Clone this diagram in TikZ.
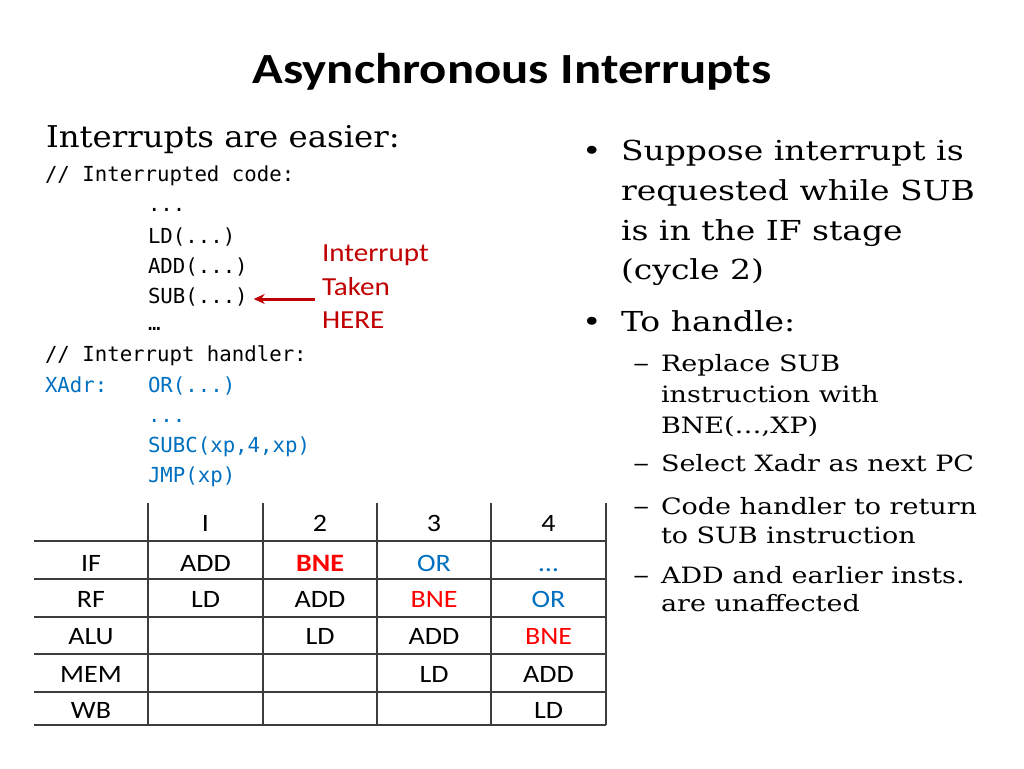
\documentclass[tikz,border=0pt]{standalone}
\usepackage{fontspec}
\usetikzlibrary{arrows.meta}
\newfontfamily\titlefont[FakeStretch=1.18]{Carlito}
\newfontfamily\gillfont[FakeStretch=1.12]{Carlito}
\newfontfamily\seriffont[FakeStretch=1.2]{DejaVu Serif}
\newfontfamily\dashfont[FakeStretch=1.35]{DejaVu Serif}
\newfontfamily\headfont[FakeStretch=1.08]{DejaVu Serif}
\newfontfamily\codefont{DejaVu Sans Mono}
\definecolor{codeblue}{RGB}{0,112,192}
\definecolor{darkred}{RGB}{192,0,0}
\definecolor{brightred}{RGB}{255,0,0}
\definecolor{gridgray}{RGB}{60,60,60}
\tikzset{
  txt/.style={inner sep=0pt, outer sep=0pt, anchor=base west},
  code/.style={txt, font=\codefont\fontsize{20.7}{24}\selectfont},
  bcode/.style={code, text=codeblue},
  big/.style={txt, font=\seriffont\fontsize{27.5}{32}\selectfont},
  small/.style={txt, font=\seriffont\fontsize{22.5}{26}\selectfont},
  dashmark/.style={txt, font=\dashfont\fontsize{24}{26}\selectfont},
  redtxt/.style={txt, text=darkred, font=\gillfont\fontsize{26}{34}\selectfont},
  cell/.style={inner sep=0pt, anchor=base, font=\gillfont\fontsize{25}{30}\selectfont},
  grid/.style={draw=gridgray, line width=1.4pt},
}
\begin{document}
\begin{tikzpicture}[x=1pt,y=-1pt]
\useasboundingbox[fill=white] (0,0) rectangle (1024,768);
% title
\node[inner sep=0pt, anchor=base, font=\titlefont\bfseries\fontsize{43}{50}\selectfont] (title) at (512,83) {Asynchronous Interrupts};
% left heading
\node[txt, font=\headfont\fontsize{30}{36}\selectfont] (easier) at (46,147) {Interrupts are easier:};
% code
\node[code] (c1) at (45,181) {// Interrupted code:};
\node[code] (c2) at (148,211) {...};
\node[code] (c3) at (148,243) {LD(...)};
\node[code] (c4) at (148,273) {ADD(...)};
\node[code] (sub) at (148,303) {SUB(...)};
\node[code] (c6) at (148,330) {…};
\node[code] (c7) at (45,361) {// Interrupt handler:};
\node[bcode] (x1) at (45,392) {XAdr:};
\node[bcode] (x2) at (148,392) {OR(...)};
\node[bcode] (x3) at (148,422) {...};
\node[bcode] (x4) at (148,452) {SUBC(xp,4,xp)};
\node[bcode] (x5) at (148,482) {JMP(xp)};
% interrupt taken
\node[redtxt] (taken1) at (322,261) {Interrupt};
\node[redtxt] (taken2) at (322,295) {Taken};
\node[redtxt] (taken3) at (322,328) {HERE};
\coordinate (arrS) at (315,299);
\draw[darkred, line width=3pt, -{Stealth[length=11pt,width=10pt]}] (arrS) -- ([xshift=6pt]sub.east |- arrS);
% right bullets
\node[big] (b1) at (582,160) {•};
\node[big] (t1) at (621,160) {Suppose interrupt is};
\node[big] (t2) at (621,200) {requested while SUB};
\node[big] (t3) at (621,240) {is in the IF stage};
\node[big] (t4) at (621,279) {(cycle 2)};
\node[big] (b2) at (582,331) {•};
\node[big] (t5) at (621,331) {To handle:};
\node[dashmark] (d1) at (633,371) {–};
\node[small] (s1) at (661,371) {Replace SUB};
\node[small] (s2) at (661,402) {instruction with};
\node[small] (s3) at (661,433) {BNE(…,XP)};
\node[dashmark] (d2) at (633,471) {–};
\node[small] (s4) at (661,471) {Select Xadr as next PC};
\node[dashmark] (d3) at (633,514) {–};
\node[small] (s5) at (661,514) {Code handler to return};
\node[small] (s6) at (661,543) {to SUB instruction};
\node[dashmark] (d4) at (633,583) {–};
\node[small] (s7) at (661,583) {ADD and earlier insts.};
\node[small] (s8) at (661,611) {are unaffected};
% table grid
\foreach \yy in {541,579,617,654,692,725}{\draw[grid] (34,\yy) -- (606,\yy);}
\foreach \xx in {148,263,377,491,606}{\draw[grid] (\xx,503) -- (\xx,725);}
% header
\node[cell] (h1) at (205.5,531) {I};
\node[cell] (h2) at (320,531) {2};
\node[cell] (h3) at (434,531) {3};
\node[cell] (h4) at (548.5,531) {4};
% stage labels
\node[cell] (rIF) at (91,571) {IF};
\node[cell] (rRF) at (91,607) {RF};
\node[cell] (rALU) at (91,644) {ALU};
\node[cell] (rMEM) at (91,682) {MEM};
\node[cell] (rWB) at (91,718) {WB};
% cells
\node[cell] (a11) at (205.5,571) {ADD};
\node[cell, text=brightred, font=\gillfont\bfseries\fontsize{25}{30}\selectfont] (a12) at (320,571) {BNE};
\node[cell, text=codeblue] (a13) at (434,571) {OR};
\node[cell, text=codeblue] (a14) at (548.5,571) {…};
\node[cell] (a21) at (205.5,607) {LD};
\node[cell] (a22) at (320,607) {ADD};
\node[cell, text=brightred] (a23) at (434,607) {BNE};
\node[cell, text=codeblue] (a24) at (548.5,607) {OR};
\node[cell] (a32) at (320,644) {LD};
\node[cell] (a33) at (434,644) {ADD};
\node[cell, text=brightred] (a34) at (548.5,644) {BNE};
\node[cell] (a43) at (434,682) {LD};
\node[cell] (a44) at (548.5,682) {ADD};
\node[cell] (a54) at (548.5,718) {LD};
\end{tikzpicture}
\end{document}
